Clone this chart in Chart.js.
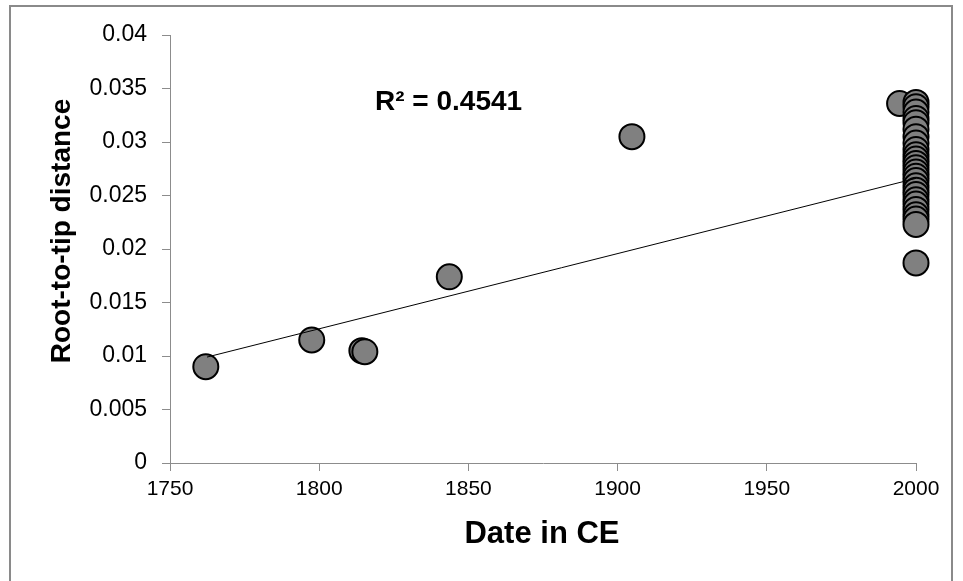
<!DOCTYPE html>
<html>
<head>
<meta charset="utf-8">
<script src="https://cdn.jsdelivr.net/npm/chart.js@4/dist/chart.umd.min.js"></script>
<style>
  html, body { margin: 0; padding: 0; background: #fff; }
  #wrap { position: relative; width: 963px; height: 581px; overflow: hidden; }
  #frame { position: absolute; left: 9px; top: 5px; width: 944px; height: 620px; border: 2px solid #8a8a8a; box-sizing: border-box; }
  canvas { position: absolute; left: 0; top: 0; }
</style>
</head>
<body>
<div id="wrap">
  <div id="frame"></div>
  <canvas id="c" width="963" height="581"></canvas>
</div>
<script>
// ---- data ----
const dateCE = [1762, 1797.5, 1814.3, 1815.3, 1843.6, 1904.8, 1994.5,
  2000, 2000, 2000, 2000, 2000, 2000, 2000, 2000, 2000, 2000, 2000, 2000, 2000,
  2000, 2000, 2000, 2000, 2000, 2000, 2000, 2000, 2000, 2000, 2000, 2000, 2000];
const rootToTip = [0.0090, 0.0115, 0.0105, 0.0104, 0.0174, 0.0305, 0.0336,
  0.0337, 0.0333, 0.0328, 0.0322, 0.0318, 0.0312, 0.0305, 0.0299, 0.0293, 0.0288,
  0.0284, 0.0280, 0.0276, 0.0272, 0.0268, 0.0264, 0.0259, 0.0255, 0.0251, 0.0246,
  0.0242, 0.0237, 0.0232, 0.0228, 0.0223, 0.0187];
const trendX = [1762.4, 2000];
const trendY = [0.0099, 0.0266];
const xTicks = [1750, 1800, 1850, 1900, 1950, 2000];
const yTicks = [0, 0.005, 0.01, 0.015, 0.02, 0.025, 0.03, 0.035, 0.04];
const yTickLabels = ['0', '0.005', '0.01', '0.015', '0.02', '0.025', '0.03', '0.035', '0.04'];
const xTitle = 'Date in CE';
const yTitle = 'Root-to-tip distance';
const r2Label = 'R\u00B2 = 0.4541';

const FONT = "'Liberation Sans', Arial, sans-serif";

const textPlugin = {
  id: 'texts',
  afterDraw(chart) {
    const ctx = chart.ctx;
    ctx.save();
    ctx.fillStyle = '#000';
    ctx.font = 'bold 31px ' + FONT;
    ctx.textAlign = 'center';
    ctx.textBaseline = 'alphabetic';
    ctx.fillText(xTitle, 542, 543);
    ctx.save();
    ctx.translate(70, 231);
    ctx.rotate(-Math.PI / 2);
    ctx.font = 'bold 28px ' + FONT;
    ctx.fillText(yTitle, 0, 0);
    ctx.restore();
    ctx.font = 'bold 28px ' + FONT;
    ctx.textAlign = 'left';
    ctx.fillText(r2Label, 375, 110);
    ctx.restore();
  }
};

new Chart(document.getElementById('c'), {
  type: 'scatter',
  data: {
    datasets: [
      {
        type: 'line',
        label: 'trend',
        data: trendX.map((x, i) => ({ x: x, y: trendY[i] })),
        borderColor: '#000',
        borderWidth: 1,
        pointRadius: 0,
        fill: false,
        clip: false,
        order: 0
      },
      {
        label: 'samples',
        data: dateCE.map((x, i) => ({ x: x, y: rootToTip[i] })),
        backgroundColor: '#808080',
        borderColor: '#000',
        borderWidth: 2,
        pointRadius: 12.5,
        pointHoverRadius: 12.5,
        clip: false,
        order: 1
      }
    ]
  },
  plugins: [textPlugin],
  options: {
    responsive: false,
    animation: false,
    events: [],
    layout: { padding: { left: 0, top: 35, right: 47, bottom: 0 } },
    plugins: { legend: { display: false }, tooltip: { enabled: false } },
    scales: {
      x: {
        type: 'linear',
        min: 1750, max: 2000,
        afterFit(s) { s.height = 118; },
        afterBuildTicks(s) { s.ticks = xTicks.map(v => ({ value: v })); },
        border: { display: true, color: '#8c8c8c', width: 1 },
        grid: { drawOnChartArea: false, drawTicks: true, tickLength: 8, color: '#8c8c8c' },
        ticks: { color: '#000', font: { family: FONT, size: 21 }, padding: 6, maxRotation: 0,
                 callback: (v) => String(v) }
      },
      y: {
        type: 'linear',
        min: 0, max: 0.04,
        afterFit(s) { s.width = 170; },
        afterBuildTicks(s) { s.ticks = yTicks.map(v => ({ value: v })); },
        border: { display: true, color: '#8c8c8c', width: 1 },
        grid: { drawOnChartArea: false, drawTicks: true, tickLength: 8, color: '#8c8c8c' },
        ticks: { color: '#000', font: { family: FONT, size: 23 }, padding: 15,
                 callback: (v, i) => yTickLabels[i] }
      }
    }
  }
});
</script>
</body>
</html>
